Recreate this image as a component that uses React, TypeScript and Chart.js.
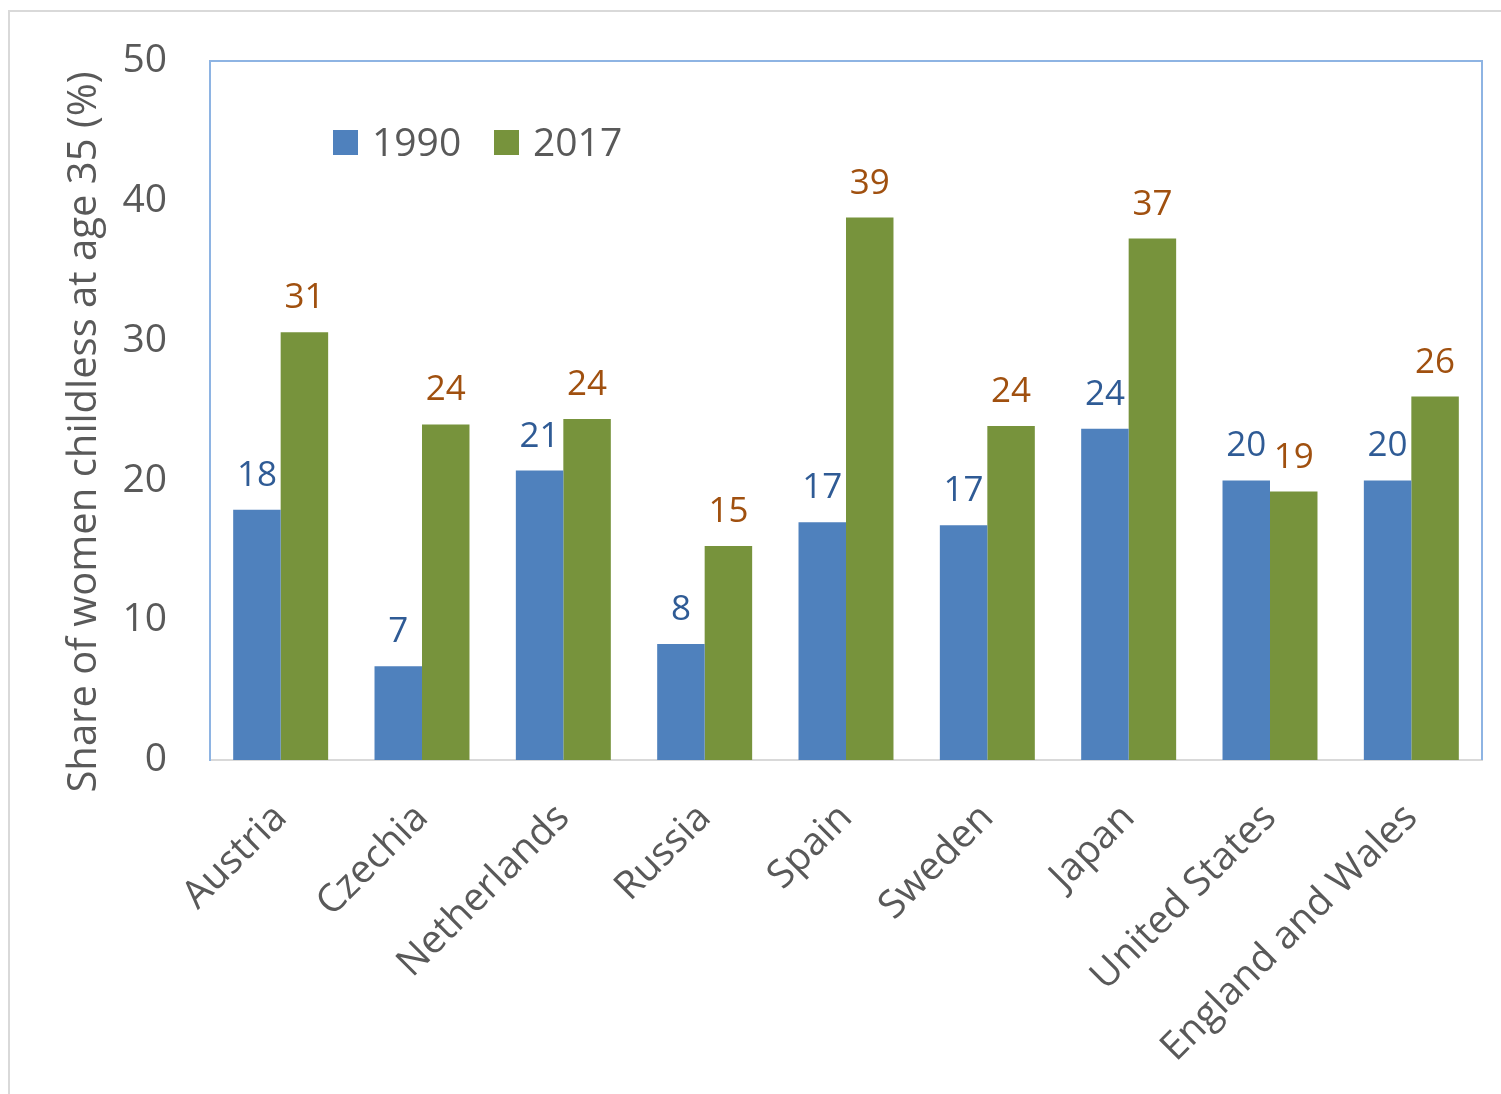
import React, { useEffect, useRef } from 'react';
import { Chart, registerables } from 'chart.js';

Chart.register(...registerables);

const categories = ['Austria', 'Czechia', 'Netherlands', 'Russia', 'Spain', 'Sweden', 'Japan', 'United States', 'England and Wales'];
const values1990 = [17.9, 6.7, 20.7, 8.3, 17.0, 16.8, 23.7, 20.0, 20.0];
const values2017 = [30.6, 24.0, 24.4, 15.3, 38.8, 23.9, 37.3, 19.2, 26.0];
const seriesNames = ['1990', '2017'];
const yTitle = 'Share of women childless at age 35 (%)';
const yMin = 0;
const yMax = 50;
const yStep = 10;

const FONT = '"Open Sans", "Noto Sans", sans-serif';
const TEXT = '#595959';
const BAR_COLORS = ['#4F81BD', '#77933C'];
const LABEL_COLORS = ['#2F5B95', '#A0500F'];

const overlay = {
  id: 'overlay',
  afterDraw(chart: any) {
    const { ctx, chartArea: ca } = chart;
    ctx.save();
    // plot border top/right
    ctx.strokeStyle = '#8EB4E3';
    ctx.lineWidth = 2;
    ctx.beginPath();
    ctx.moveTo(ca.left - 1, ca.top);
    ctx.lineTo(ca.right, ca.top);
    ctx.lineTo(ca.right, ca.bottom);
    ctx.stroke();

    // data labels
    ctx.font = `35px ${FONT}`;
    ctx.textAlign = 'center';
    ctx.textBaseline = 'alphabetic';
    chart.data.datasets.forEach((ds: any, di: number) => {
      const meta = chart.getDatasetMeta(di);
      meta.data.forEach((bar: any, i: number) => {
        ctx.fillStyle = LABEL_COLORS[di];
        ctx.fillText(String(Math.round(ds.data[i])), bar.x, bar.y - 24);
      });
    });

    // legend
    const legendX = [333, 494];
    chart.data.datasets.forEach((ds: any, di: number) => {
      ctx.fillStyle = ds.backgroundColor;
      ctx.fillRect(legendX[di], 130, 25, 25);
      ctx.fillStyle = TEXT;
      ctx.font = `39px ${FONT}`;
      ctx.textAlign = 'left';
      ctx.fillText(ds.label, legendX[di] + 39, 156);
    });

    // y title
    ctx.translate(85, 432);
    ctx.rotate(-Math.PI / 2);
    ctx.font = `40px ${FONT}`;
    ctx.fillStyle = TEXT;
    ctx.textAlign = 'center';
    ctx.textBaseline = 'middle';
    ctx.fillText(yTitle, 0, 0);
    ctx.restore();
  },
};

export default function App() {
  const ref = useRef<HTMLCanvasElement>(null);
  useEffect(() => {
    if (!ref.current) return;
    const chart = new Chart(ref.current, {
      type: 'bar',
      data: {
        labels: categories,
        datasets: [
          { label: seriesNames[0], data: values1990, backgroundColor: BAR_COLORS[0], categoryPercentage: 0.672, barPercentage: 1 },
          { label: seriesNames[1], data: values2017, backgroundColor: BAR_COLORS[1], categoryPercentage: 0.672, barPercentage: 1 },
        ],
      },
      options: {
        responsive: false,
        animation: false,
        layout: { padding: { left: 0, top: 61, right: 19, bottom: 0 } },
        plugins: { legend: { display: false }, tooltip: { enabled: false } },
        scales: {
          x: {
            grid: { display: false, drawTicks: false },
            border: { display: true, color: '#D9D9D9', width: 2 },
            ticks: {
              color: TEXT,
              font: { family: FONT, size: 39 },
              maxRotation: 45,
              minRotation: 45,
              padding: 35,
              autoSkip: false,
            },
            afterFit(scale: any) {
              scale.height = 334;
              scale.paddingLeft = 0;
              scale.paddingRight = 0;
            },
          },
          y: {
            min: yMin,
            max: yMax,
            grid: { display: false, drawTicks: false },
            border: { display: true, color: '#8EB4E3', width: 2 },
            ticks: {
              stepSize: yStep,
              color: TEXT,
              font: { family: FONT, size: 39 },
              padding: 43,
            },
            afterFit(scale: any) {
              scale.width = 210;
              scale.paddingTop = 0;
              scale.paddingBottom = 0;
            },
          },
        },
      },
      plugins: [overlay],
    });
    return () => chart.destroy();
  }, []);

  return (
    <div style={{ position: 'fixed', left: 0, top: 0, width: 1501, height: 1094, background: '#fff', overflow: 'hidden' }}>
      <div style={{ position: 'absolute', left: 8, top: 10, width: 1600, height: 1200, borderTop: '2px solid #D9D9D9', borderLeft: '2px solid #D9D9D9' }} />
      <canvas ref={ref} width={1501} height={1094} style={{ position: 'absolute', left: 0, top: 0 }} />
    </div>
  );
}
